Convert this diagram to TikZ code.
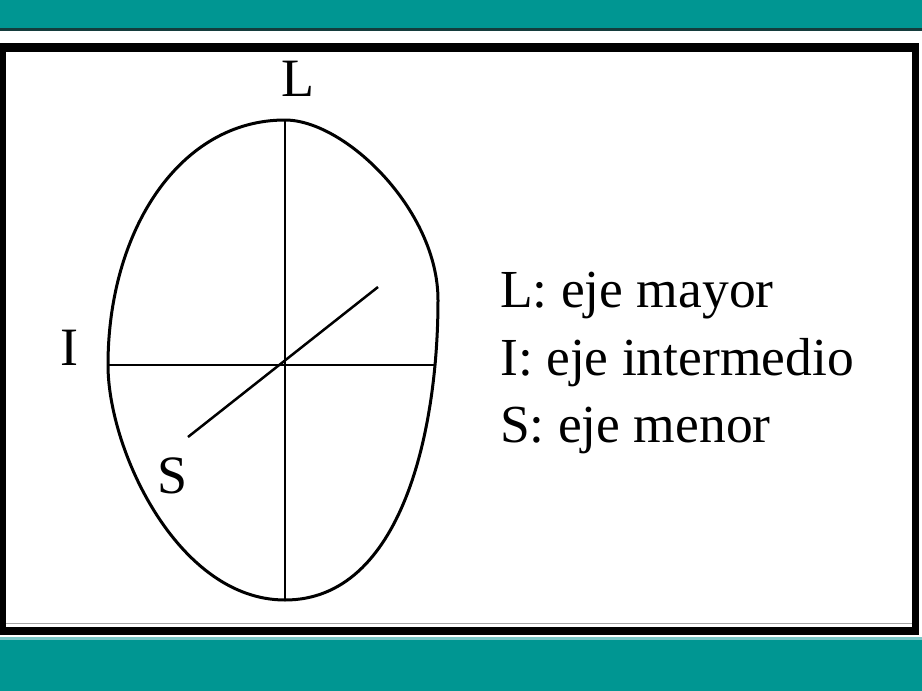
\documentclass[tikz,border=0pt]{standalone}
\usepackage{fontspec}
\setmainfont{Liberation Serif}
\definecolor{teal1}{RGB}{0,150,146}
\definecolor{tealdark}{RGB}{20,60,60}
\definecolor{teallight}{RGB}{120,200,200}
\tikzset{
  lbl/.style={inner sep=0pt, font=\fontsize{54}{60}\selectfont, anchor=base},
  legend/.style={inner sep=0pt, font=\fontsize{53.5}{60}\selectfont, anchor=base west},
  axis/.style={draw=black, line width=2.5pt},
  egg/.style={draw=black, line width=3pt}
}
\begin{document}
\begin{tikzpicture}[x=1pt,y=-1pt]
\useasboundingbox (0,0) rectangle (922,691);
% bands
\fill[teal1] (0,0) rectangle (922,28);
\fill[tealdark] (0,28) rectangle (922,31);
\fill[teal1] (0,640) rectangle (922,691);
\fill[teallight] (0,637) rectangle (922,640);
% frame
\fill[black] (0,43) rectangle (919,635);
\fill[white] (6,52) rectangle (912,627);
\draw[gray!70, line width=1.5pt] (6,623.5) -- (912,623.5);
% axes end points
\coordinate (ltop) at (285,120);
\coordinate (lbot) at (285,600);
\coordinate (ileft) at (108,365);
\coordinate (iright) at (435,365);
\coordinate (sa) at (188,437);
\coordinate (sb) at (378,287);
\coordinate (rmax) at (438,300);
% egg
\draw[egg] (ltop) .. controls (345,120) and (438,210) .. (rmax)
  .. controls (438,430) and (402,600) .. (lbot)
  .. controls (178,600) and (108,450) .. (ileft)
  .. controls (108,230) and (180,120) .. (ltop) -- cycle;
% axes
\draw[axis] (ltop) -- (lbot);
\draw[axis] (ileft) -- (iright);
\draw[axis] (sa) -- (sb);
% labels
\node[lbl] (L) at (298,96) {L};
\node[lbl] (I) at (69.5,365) {I};
\node[lbl] (S) at (173,493) {S};
\node[legend] (t1) at (500,307) {L: eje mayor};
\node[legend] (t2) at (500,375) {I: eje intermedio};
\node[legend] (t3) at (500,442) {S: eje menor};
\end{tikzpicture}
\end{document}
